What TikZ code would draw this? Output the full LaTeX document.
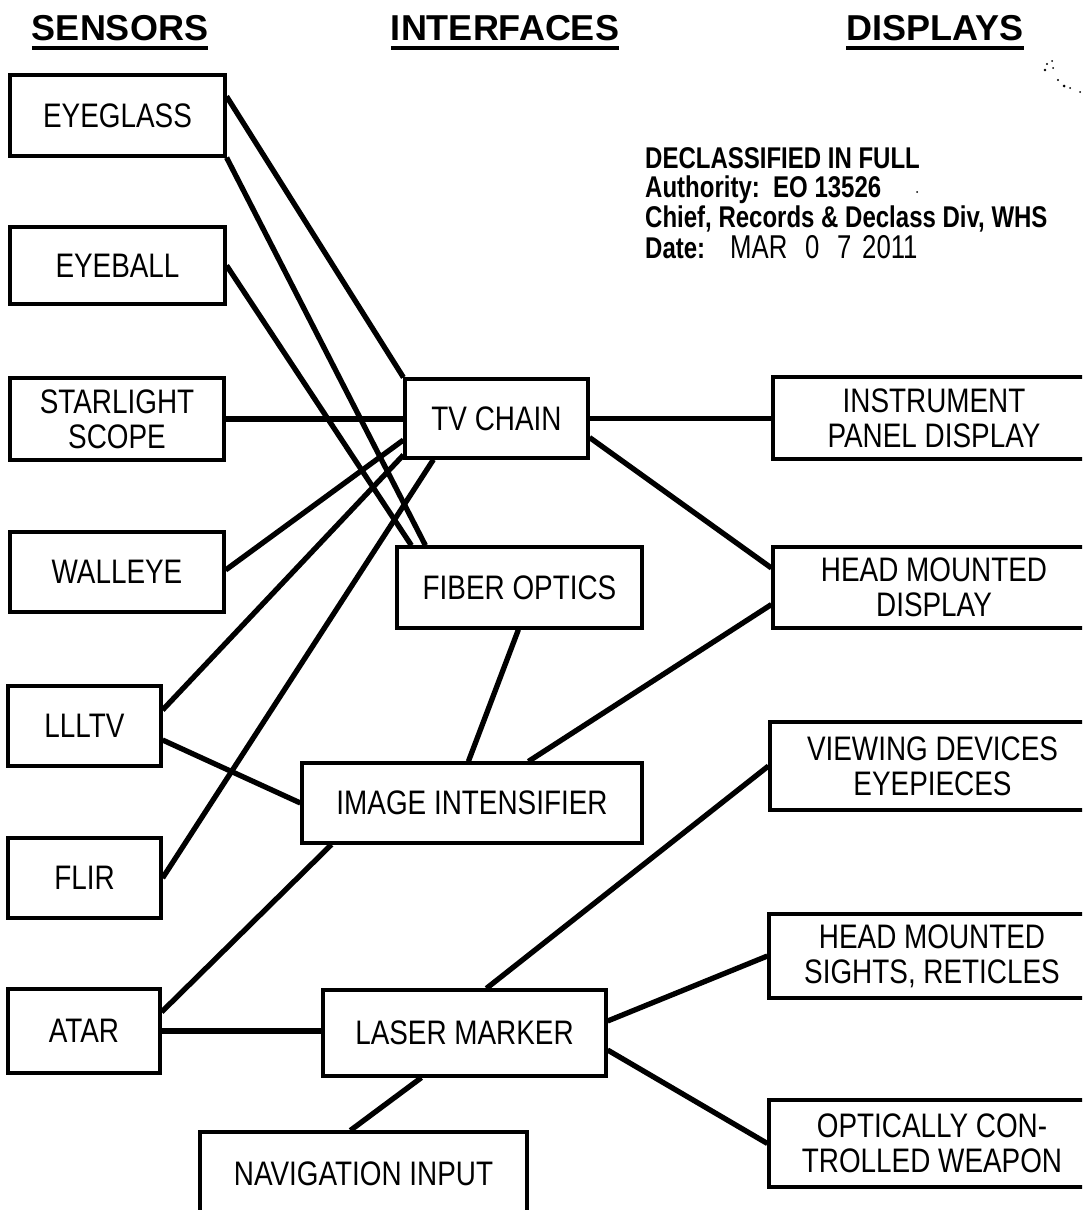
\documentclass[tikz,border=0pt]{standalone}
\usepackage{fontspec}
\setmainfont{Liberation Sans}
\newfontfamily\boxfont{Liberation Sans}[FakeStretch=0.82]
\newfontfamily\stampfont{Liberation Sans}[FakeStretch=0.8]
\newfontfamily\datefont{Liberation Sans}[FakeStretch=0.78]
\begin{document}
\begin{tikzpicture}[x=1pt,y=-1pt,
  box/.style={draw, line width=3.2pt, inner sep=0pt, align=center,
              font=\boxfont\fontsize{34}{35}\selectfont},
  link/.style={line width=5.3pt},
  hdr/.style={inner sep=0pt, anchor=base, font=\bfseries\fontsize{36}{36}\selectfont},
  uline/.style={line width=4.5pt},
  stamp/.style={inner sep=0pt, anchor=base west,
                font=\stampfont\bfseries\fontsize{30}{30}\selectfont},
  datestyle/.style={inner sep=0pt, anchor=base west,
                font=\datefont\fontsize{33}{33}\selectfont},
  speck/.style={fill=black}
]
\useasboundingbox (0,0) rectangle (1082,1210);
\fill[white] (0,0) rectangle (1082,1210);
\clip (0,0) rectangle (1082,1210);

% headers
\node[hdr] (hsens) at (120,40) {SENSORS};
\node[hdr] (hint) at (505,40) {INTERFACES};
\node[hdr] (hdisp) at (935,40) {DISPLAYS};
\draw[uline] ([yshift=-8pt]hsens.base west) -- ([yshift=-8pt]hsens.base east);
\draw[uline] ([yshift=-8pt]hint.base west) -- ([yshift=-8pt]hint.base east);
\draw[uline] ([yshift=-8pt]hdisp.base west) -- ([yshift=-8pt]hdisp.base east);

% stamp
\node[stamp] (s1) at (645,168) {DECLASSIFIED IN FULL};
\node[stamp] (s2) at (645,197) {Authority:\ \ EO 13526};
\node[stamp] (s3) at (645,227) {Chief, Records \& Declass Div, WHS};
\node[stamp] (s4) at (645,258) {Date:};
\node[datestyle] (d1) at (730,258) {MAR};
\node[datestyle] (d2) at (805,258) {0};
\node[datestyle] (d3) at (837,258) {7};
\node[datestyle] (d4) at (862,258) {2011};
\fill[speck] (917,192) circle (1);
\fill[speck] (1047,64) circle (1.2);
\fill[speck] (1052,61) circle (1);
\fill[speck] (1045,70) circle (1.3);
\fill[speck] (1053,68) circle (1);
\fill[speck] (1058,80) circle (1.2);
\fill[speck] (1064,86) circle (1.5);
\fill[speck] (1070,88) circle (1);
\fill[speck] (1080,92) circle (1);

% sensors
\node[box, minimum width=215, minimum height=81] (eyeglass) at (117.5,115.5) {EYEGLASS};
\node[box, minimum width=215, minimum height=77] (eyeball) at (117.5,265.5) {EYEBALL};
\node[box, minimum width=214, minimum height=82] (starlight) at (117,419) {STARLIGHT\\SCOPE};
\node[box, minimum width=214, minimum height=80] (walleye) at (117,572) {WALLEYE};
\node[box, minimum width=153, minimum height=80] (lllrv) at (84.5,726) {LLLTV};
\node[box, minimum width=153, minimum height=80] (flir) at (84.5,878) {FLIR};
\node[box, minimum width=152, minimum height=84] (atar) at (84,1031) {ATAR};

% interfaces
\node[box, minimum width=183, minimum height=79] (tvchain) at (496.5,418.5) {TV CHAIN};
\node[box, minimum width=245, minimum height=81] (fiber) at (519.5,587.5) {FIBER OPTICS};
\node[box, minimum width=340, minimum height=80] (imageint) at (472,803) {IMAGE INTENSIFIER};
\node[box, minimum width=283, minimum height=86] (laser) at (464.5,1033) {LASER MARKER};
\node[box, minimum width=327, minimum height=83] (nav) at (363.5,1173.5) {NAVIGATION INPUT};

% displays
\node[box, minimum width=322, minimum height=82] (instrument) at (934,418) {INSTRUMENT\\PANEL DISPLAY};
\node[box, minimum width=322, minimum height=81] (hmd) at (934,587.5) {HEAD MOUNTED\\DISPLAY};
\node[box, minimum width=325, minimum height=88] (viewing) at (932.5,766) {VIEWING DEVICES\\EYEPIECES};
\node[box, minimum width=326, minimum height=84] (sights) at (932,956) {HEAD MOUNTED\\SIGHTS, RETICLES};
\node[box, minimum width=326, minimum height=87] (weapon) at (932,1143.5) {OPTICALLY CON-\\TROLLED WEAPON};

% connectors
\draw[link] ([yshift=-23pt]eyeglass.north east) -- (tvchain.north west);
\draw[link] (eyeglass.south east) -- ([xshift=30pt]fiber.north west);
\draw[link] (eyeball.east) -- ([xshift=16pt]fiber.north west);
\draw[link] (starlight.east) -- (starlight.east -| tvchain.west);
\draw[link] ([yshift=2pt]walleye.east) -- ([yshift=-21.5pt]tvchain.west);
\draw[link] ([yshift=16pt]lllrv.east) -- ([yshift=-36.5pt]tvchain.west);
\draw[link] (flir.east) -- ([xshift=30pt]tvchain.south west);
\draw[link] ([yshift=-14pt]lllrv.east) -- (imageint.west);
\draw[link] ([yshift=19pt]atar.east) -- ([xshift=31pt]imageint.south west);
\draw[link] (atar.east) -- (atar.east -| laser.west);
\draw[link] (tvchain.east) -- (tvchain.east -| instrument.west);
\draw[link] ([yshift=-19pt]tvchain.east) -- ([yshift=19.5pt]hmd.west);
\draw[link] ([xshift=123pt]fiber.south west) -- ([xshift=168pt]imageint.north west);
\draw[link] ([xshift=228pt]imageint.north west) -- ([yshift=-17pt]hmd.west);
\draw[link] ([xshift=165pt]laser.north west) -- (viewing.west);
\draw[link] ([yshift=12pt]laser.east) -- (sights.west);
\draw[link] ([yshift=-17pt]laser.east) -- (weapon.west);
\draw[link] ([xshift=152pt]nav.north west) -- ([xshift=100pt]laser.south west);
\end{tikzpicture}
\end{document}
